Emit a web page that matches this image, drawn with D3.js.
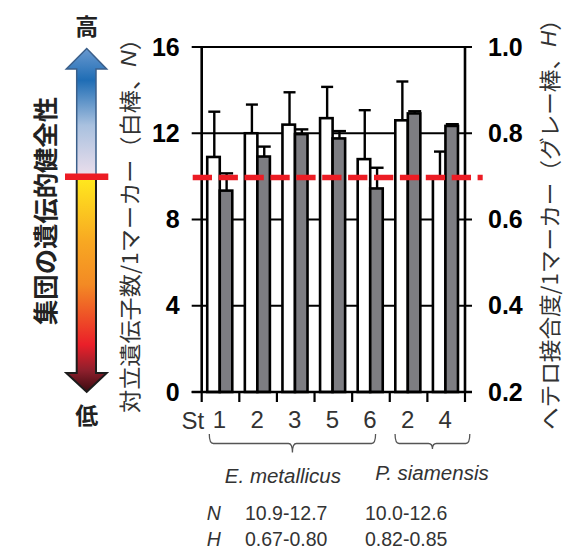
<!DOCTYPE html>
<html><head><meta charset="utf-8">
<script src="https://cdn.jsdelivr.net/npm/d3@7"></script>
<style>body{margin:0;background:#fff} svg{display:block}</style>
</head><body><svg id="c" width="582" height="553"></svg>
<script>
// ---- data ----
const categories = ["1","2","3","5","6","2","4"];
const alleleN    = [10.9, 12.0, 12.4, 12.7, 10.8, 12.6, 10.0];
const alleleNErr = [2.1, 1.33, 1.5, 1.45, 2.27, 1.8, 1.15];
const heteroH    = [0.667, 0.746, 0.798, 0.788, 0.672, 0.846, 0.817];
const heteroHErr = [0.04, 0.023, 0.011, 0.017, 0.048, 0.005, 0.004];
const leftTicks  = [0, 4, 8, 12, 16];
const rightTicks = [0.2, 0.4, 0.6, 0.8, 1.0];
const thresholdN = 10;
const speciesNames = ["E. metallicus", "P. siamensis"];
const speciesFrom = [0, 5];
const speciesTo = [4, 6];
const rowLabels = ["N", "H"];
const rowValues = [["10.9-12.7", "10.0-12.6"], ["0.67-0.80", "0.82-0.85"]];

const LAT = "'Liberation Sans', Arial, sans-serif";
const CJK = "'Noto Sans CJK JP', sans-serif";

const svg = d3.select("#c");
const L = 201.7, R = 465, T = 47, B = 392;

const x0 = d3.scaleBand().domain(d3.range(categories.length)).range([L, R]);
const bw = x0.bandwidth();
const x1 = d3.scaleBand().domain(["N", "H"]).range([bw * 0.147, bw * 0.813]);
const yL = d3.scaleLinear().domain([0, 16]).range([B, T]);
const yR = d3.scaleLinear().domain([0.2, 1.0]).range([B, T]);

// ---- gridlines / ticks ----
const g = svg.append("g");
g.selectAll("line.grid").data(leftTicks).join("line")
  .attr("x1", L - 10).attr("x2", R + 7)
  .attr("y1", d => yL(d)).attr("y2", d => yL(d))
  .attr("stroke", "#000").attr("stroke-width", 2.2);

// left axis labels
const axL = d3.axisLeft(yL).tickValues(leftTicks).tickSize(10).tickPadding(12);
const gl = svg.append("g").attr("transform", `translate(${L},0)`).call(axL);
gl.select(".domain").remove();
gl.selectAll(".tick line").remove();
gl.selectAll("text").attr("font-family", LAT).attr("font-size", 25).attr("font-weight", "bold").attr("fill", "#000");

const axR = d3.axisRight(yR).tickValues(rightTicks).tickSize(7).tickPadding(16).tickFormat(d3.format(".1f"));
const gr = svg.append("g").attr("transform", `translate(${R},0)`).call(axR);
gr.select(".domain").remove();
gr.selectAll(".tick line").remove();
gr.selectAll("text").attr("font-family", LAT).attr("font-size", 25).attr("font-weight", "bold").attr("fill", "#000");

// ---- bars ----
const bars = svg.append("g");
categories.forEach((c, i) => {
  const gx = x0(i);
  const wN = x1.bandwidth();
  bars.append("rect").attr("x", gx + x1("N")).attr("width", wN)
    .attr("y", yL(alleleN[i])).attr("height", yL(0) - yL(alleleN[i]))
    .attr("fill", "#fff").attr("stroke", "#000").attr("stroke-width", 2.6);
  bars.append("rect").attr("x", gx + x1("H")).attr("width", wN)
    .attr("y", yR(heteroH[i])).attr("height", yR(0.2) - yR(heteroH[i]))
    .attr("fill", "#7d7d82").attr("stroke", "#000").attr("stroke-width", 2.6);
  const cxN = gx + x1("N") + wN / 2 + 0.8;
  bars.append("line").attr("x1", cxN).attr("x2", cxN)
    .attr("y1", yL(alleleN[i])).attr("y2", yL(alleleN[i] + alleleNErr[i]))
    .attr("stroke", "#000").attr("stroke-width", 2.4);
  bars.append("line").attr("x1", cxN - 6).attr("x2", cxN + 6)
    .attr("y1", yL(alleleN[i] + alleleNErr[i])).attr("y2", yL(alleleN[i] + alleleNErr[i]))
    .attr("stroke", "#000").attr("stroke-width", 2.4);
  const cxH = gx + x1("H") + wN / 2 + 0.6;
  bars.append("line").attr("x1", cxH).attr("x2", cxH)
    .attr("y1", yR(heteroH[i])).attr("y2", yR(heteroH[i] + heteroHErr[i]))
    .attr("stroke", "#000").attr("stroke-width", 2.4);
  bars.append("line").attr("x1", cxH - 6.5).attr("x2", cxH + 6.5)
    .attr("y1", yR(heteroH[i] + heteroHErr[i])).attr("y2", yR(heteroH[i] + heteroHErr[i]))
    .attr("stroke", "#000").attr("stroke-width", 2.4);
});

// axes lines (vertical)
svg.append("line").attr("x1", L).attr("x2", L).attr("y1", yL(0) + 1).attr("y2", yL(16) - 1)
  .attr("stroke", "#000").attr("stroke-width", 2.6);
svg.append("line").attr("x1", R).attr("x2", R).attr("y1", yL(0) + 1).attr("y2", yL(16) - 1)
  .attr("stroke", "#000").attr("stroke-width", 2.6);
svg.append("line").attr("x1", L - 10).attr("x2", R + 7).attr("y1", yL(0)).attr("y2", yL(0))
  .attr("stroke", "#000").attr("stroke-width", 2.6);

// x ticks at band boundaries
const bounds = d3.range(categories.length).map(i => x0(i)).concat([R]);
svg.selectAll("line.xt").data(bounds).join("line")
  .attr("x1", d => d).attr("x2", d => d).attr("y1", B).attr("y2", B + 10)
  .attr("stroke", "#000").attr("stroke-width", 2.2);

// x labels
const axB = d3.axisBottom(x0).tickSize(0).tickPadding(19).tickFormat(i => categories[i]);
const gb = svg.append("g").attr("transform", `translate(-1,${B})`).call(axB);
gb.select(".domain").remove();
gb.selectAll("text").attr("font-family", LAT).attr("font-size", 24).attr("fill", "#333");
svg.append("text").attr("x", L + 2.5).attr("y", 429).attr("text-anchor", "end")
  .attr("font-family", LAT).attr("font-size", 24).attr("fill", "#333").text("St");

// threshold dashed line
svg.append("line").attr("x1", 192.7).attr("x2", 482.7)
  .attr("y1", yL(thresholdN) + 1).attr("y2", yL(thresholdN) + 1)
  .attr("stroke", "#ec1c24").attr("stroke-width", 5.5).attr("stroke-dasharray", "19.3,6.6");

// ---- braces & species ----
function brace(x1b, x2b, xm, yTop, yFlat, yTip) {
  const r = 4;
  return `M${x1b},${yTop} Q${x1b},${yFlat} ${x1b + r},${yFlat} L${xm - r},${yFlat} Q${xm},${yFlat} ${xm},${yTip} ` +
         `Q${xm},${yFlat} ${xm + r},${yFlat} L${x2b - r},${yFlat} Q${x2b},${yFlat} ${x2b},${yTop}`;
}
speciesNames.forEach((nm, k) => {
  const bx1 = x0(speciesFrom[k]) + (k === 0 ? 7.6 : 5.3);
  const bx2 = x0(speciesTo[k]) + bw - (k === 0 ? 14.2 : -4.8);
  const xm = (bx1 + bx2) / 2;
  svg.append("path").attr("d", brace(bx1, bx2, xm, 434, 443.5, k === 0 ? 452.5 : 449))
    .attr("fill", "none").attr("stroke", "#555").attr("stroke-width", 1.3);
  svg.append("text").attr("x", k === 0 ? xm - 9.5 : xm - 0.5).attr("y", k === 0 ? 482.7 : 480)
    .attr("text-anchor", "middle").attr("font-family", LAT).attr("font-style", "italic")
    .attr("font-size", 20.5).attr("fill", "#333").text(nm);
});

// N / H rows
rowLabels.forEach((lb, r) => {
  const yy = 520 + r * 26;
  svg.append("text").attr("x", 206.7).attr("y", yy).attr("font-family", LAT).attr("font-style", "italic")
    .attr("font-size", 19.5).attr("fill", "#333").text(lb);
  rowValues[r].forEach((v, k) => {
    svg.append("text").attr("x", k === 0 ? 245 : 365).attr("y", yy).attr("font-family", LAT)
      .attr("font-size", 19.5).attr("fill", "#333").text(v);
  });
});

// ---- axis titles ----
function vtitle(cx, cy, parts, len) {
  const t = svg.append("text").attr("transform", `translate(${cx},${cy}) rotate(-90)`)
    .attr("text-anchor", "middle").attr("dominant-baseline", "central")
    .attr("font-size", 22).attr("fill", "#333").attr("font-family", CJK)
    .attr("textLength", len).attr("lengthAdjust", "spacingAndGlyphs");
  parts.forEach(p => {
    const s = t.append("tspan").text(p.t);
    if (p.i) s.attr("font-family", LAT).attr("font-style", "italic");
  });
}
vtitle(128, 220, [{t: "対立遺伝子数/1マーカー（白棒、"}, {t: "N", i: true}, {t: "）"}], 386);
vtitle(548, 219, [{t: "ヘテロ接合度/1マーカー（グレー棒、"}, {t: "H", i: true}, {t: "）"}], 422);

// ---- left arrow ----
const defs = svg.append("defs");
const gu = defs.append("linearGradient").attr("id", "gu").attr("gradientUnits", "userSpaceOnUse")
  .attr("x1", 0).attr("x2", 0).attr("y1", 48).attr("y2", 177);
[[0, "#6b9ad0"], [0.25, "#1f6db5"], [0.6, "#a9c1df"], [1, "#eddfec"]].forEach(s =>
  gu.append("stop").attr("offset", s[0]).attr("stop-color", s[1]));
const gd = defs.append("linearGradient").attr("id", "gd").attr("gradientUnits", "userSpaceOnUse")
  .attr("x1", 0).attr("x2", 0).attr("y1", 177).attr("y2", 392);
[[0, "#ffea1e"], [0.3, "#f8a822"], [0.5, "#f38a24"], [0.78, "#ea1f29"], [0.9, "#8e1f2c"], [1, "#3a0a10"]].forEach(s =>
  gd.append("stop").attr("offset", s[0]).attr("stop-color", s[1]));

svg.append("path").attr("d", "M86.7,48.5 L106.7,69 L96,69 L96,177 L76.7,177 L76.7,69 L66.3,69 Z")
  .attr("fill", "url(#gu)").attr("stroke", "#3b5f8a").attr("stroke-width", 1.5);
svg.append("path").attr("d", "M76.7,177 L96,177 L96,373 L106.7,373 L86.7,392 L66.3,373 L76.7,373 Z")
  .attr("fill", "url(#gd)").attr("stroke", "#1c1c1c").attr("stroke-width", 2);
svg.append("rect").attr("x", 65).attr("y", 173.5).attr("width", 43.3).attr("height", 6.5).attr("fill", "#ec1c24");

svg.append("text").attr("x", 86.7).attr("y", 25).attr("text-anchor", "middle").attr("dominant-baseline", "central")
  .attr("font-family", CJK).attr("font-weight", "bold").attr("font-size", 23).attr("fill", "#222").text("高");
svg.append("text").attr("x", 86.7).attr("y", 414).attr("text-anchor", "middle").attr("dominant-baseline", "central")
  .attr("font-family", CJK).attr("font-weight", "bold").attr("font-size", 23).attr("fill", "#222").text("低");

svg.append("text").attr("transform", "translate(44,211) rotate(-90)")
  .attr("text-anchor", "middle").attr("dominant-baseline", "central")
  .attr("font-family", CJK).attr("font-weight", "bold").attr("font-size", 25).attr("fill", "#222")
  .attr("textLength", 228).attr("lengthAdjust", "spacingAndGlyphs").text("集団の遺伝的健全性");
</script></body></html>
